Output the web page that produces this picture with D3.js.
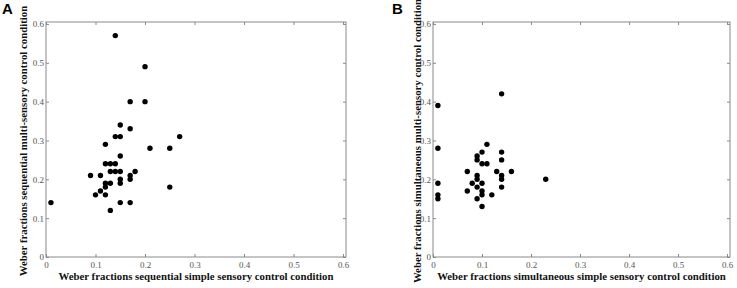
<!DOCTYPE html>
<html>
<head>
<meta charset="utf-8">
<script src="https://cdn.jsdelivr.net/npm/d3@7"></script>
<style>
  body { margin: 0; background: #fff; }
  svg text { font-family: "Liberation Serif", "Times New Roman", serif; }
</style>
</head>
<body>
<div id="chart-area"></div>
<script>
// panel A: sequential
var seqSimple = [0.01, 0.14, 0.20, 0.17, 0.20, 0.15, 0.17, 0.14, 0.15, 0.27, 0.12, 0.21, 0.25,
    0.15, 0.12, 0.13, 0.14, 0.09, 0.11, 0.13, 0.14, 0.15, 0.18, 0.17, 0.17, 0.15, 0.15, 0.12,
    0.13, 0.12, 0.11, 0.10, 0.12, 0.25, 0.15, 0.17, 0.13];
var seqMulti = [0.14, 0.57, 0.49, 0.40, 0.40, 0.34, 0.33, 0.31, 0.31, 0.31, 0.29, 0.28, 0.28,
    0.26, 0.24, 0.24, 0.24, 0.21, 0.21, 0.22, 0.22, 0.22, 0.22, 0.21, 0.20, 0.20, 0.19, 0.19,
    0.19, 0.18, 0.17, 0.16, 0.16, 0.18, 0.14, 0.14, 0.12];

// panel B: simultaneous
var simSimple = [0.01, 0.01, 0.01, 0.01, 0.01, 0.14, 0.11, 0.10, 0.14, 0.09, 0.09, 0.14, 0.10,
    0.11, 0.07, 0.13, 0.16, 0.09, 0.14, 0.09, 0.14, 0.23, 0.08, 0.10, 0.09, 0.14, 0.07, 0.10,
    0.10, 0.12, 0.09, 0.10];
var simMulti = [0.39, 0.28, 0.19, 0.16, 0.15, 0.42, 0.29, 0.27, 0.27, 0.26, 0.25, 0.25, 0.24,
    0.24, 0.22, 0.22, 0.22, 0.21, 0.21, 0.20, 0.20, 0.20, 0.19, 0.19, 0.18, 0.18, 0.17, 0.17,
    0.16, 0.16, 0.15, 0.13];

var tickValues = [0, 0.1, 0.2, 0.3, 0.4, 0.5, 0.6];

var panels = [
    { letter: "A", xs: seqSimple, ys: seqMulti, left: 46, right: 346, letterX: 2, ylabelX: 27,
      xlabel: "Weber fractions sequential simple sensory control condition",
      ylabel: "Weber fractions sequential multi-sensory control condition" },
    { letter: "B", xs: simSimple, ys: simMulti, left: 433, right: 730, letterX: 392, ylabelX: 421,
      xlabel: "Weber fractions simultaneous simple sensory control condition",
      ylabel: "Weber fractions simultaneous multi-sensory control condition" }
];

var plotTop = 22, plotBottom = 257;
var axisColor = "#8a8a8a", labelColor = "#555";

var svg = d3.select("#chart-area")
    .append("svg")
        .attr("width", 737)
        .attr("height", 288);

panels.forEach(function(p) {
    var x = d3.scaleLinear()
        .domain([0, 0.606])
        .range([p.left, p.right]);

    var y = d3.scaleLinear()
        .domain([0, 0.605])
        .range([plotBottom, plotTop]);

    var g = svg.append("g");

    // frame
    g.append("rect")
        .attr("x", p.left)
        .attr("y", plotTop)
        .attr("width", p.right - p.left)
        .attr("height", plotBottom - plotTop)
        .attr("fill", "none")
        .attr("stroke", axisColor)
        .attr("stroke-width", 1);

    var fmt = function(d) { return d === 0 ? "0" : d3.format(".1f")(d); };

    g.append("g")
        .attr("class", "x-axis")
        .attr("transform", "translate(0, " + plotBottom + ")")
        .call(d3.axisBottom(x).tickValues(tickValues).tickSize(-3).tickPadding(5).tickFormat(fmt));

    g.append("g")
        .attr("class", "y-axis")
        .attr("transform", "translate(" + p.left + ", 0)")
        .call(d3.axisLeft(y).tickValues(tickValues).tickSize(-3).tickPadding(2).tickFormat(fmt));

    // mirrored ticks on top and right
    g.append("g")
        .attr("transform", "translate(0, " + plotTop + ")")
        .call(d3.axisTop(x).tickValues(tickValues).tickSize(-3).tickFormat(""));
    g.append("g")
        .attr("transform", "translate(" + p.right + ", 0)")
        .call(d3.axisRight(y).tickValues(tickValues).tickSize(-3).tickFormat(""));

    g.selectAll(".domain").remove();
    g.selectAll(".tick line").attr("stroke", axisColor);
    g.selectAll(".tick text")
        .attr("fill", labelColor)
        .attr("font-size", "9px");

    g.selectAll("circle")
        .data(p.xs)
        .enter()
        .append("circle")
            .attr("cx", function(d) { return x(d); })
            .attr("cy", function(d, i) { return y(p.ys[i]); })
            .attr("r", 2.7)
            .attr("fill", "#000");

    g.append("text")
        .attr("x", (p.left + p.right) / 2)
        .attr("y", 280)
        .attr("text-anchor", "middle")
        .attr("font-size", "10.8px")
        .attr("font-weight", "bold")
        .attr("fill", "#111")
        .text(p.xlabel);

    g.append("text")
        .attr("transform", "translate(" + p.ylabelX + ", 141) rotate(-90)")
        .attr("text-anchor", "middle")
        .attr("font-size", "10.8px")
        .attr("font-weight", "bold")
        .attr("fill", "#111")
        .text(p.ylabel);

    svg.append("text")
        .attr("x", p.letterX)
        .attr("y", 14)
        .attr("font-size", "15px")
        .attr("font-weight", "bold")
        .style("font-family", "Liberation Sans, Arial, sans-serif")
        .text(p.letter);
});
</script>
</body>
</html>
